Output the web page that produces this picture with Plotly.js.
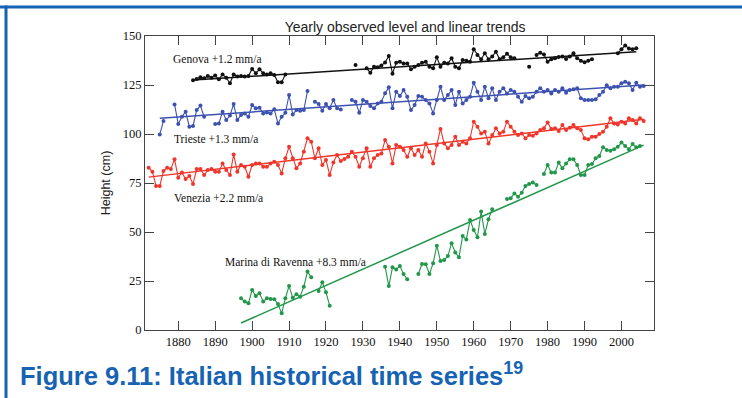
<!DOCTYPE html>
<html><head><meta charset="utf-8">
<script src="https://cdn.plot.ly/plotly-3.0.1.min.js"></script>
<style>html,body{margin:0;padding:0;background:#fff;}#chart{width:742px;height:398px;}</style>
</head><body><div id="chart"></div>
<script>
// ---- data (cm) ----
const genovaStart = 1884;
const genova = [127.4,128.0,128.9,128.4,129.6,128.7,129.8,127.9,130.4,128.7,125.9,130.4,129.3,129.6,129.3,129.6,133.2,131.0,133.0,131.0,130.4,131.0,130.1,126.4,126.4,130.4,
  null,null,null,null,null,null,null,null,null,null,null,null,null,null,null,null,null,null,
  135.2,null,null,
  133.5,131.3,134.3,134.0,135.0,136.5,139.8,130.8,136.4,136.9,
  136.0,136.0,133.0,134.3,135.2,136.4,136.9,134.3,133.5,139.1,
  134.3,136.4,136.0,138.6,134.3,133.5,137.8,137.4,136.9,143.2,
  140.3,138.1,141.2,138.1,139.5,142.0,138.1,139.1,141.0,139.1,138.6,
  null,null,null,134.3,null,
  140.3,141.5,140.5,136.9,138.1,138.6,139.3,139.6,138.3,139.5,141.2,138.6,137.4,136.6,137.4,138.1,
  null,null,null,null,null,null,
  141.2,143.2,145.2,143.6,143.2,143.8];

const triesteStart = 1875;
const trieste = [99.8,106.6,null,null,115.1,105.1,108.8,111.4,103.7,104.1,112.2,114.5,108.8,null,null,
  105.1,105.4,111.4,107.1,109.4,115.3,107.1,109.7,110.5,108.8,
  114.8,113.1,113.4,110.5,111.0,110.5,112.6,105.4,108.8,110.8,
  119.9,110.0,112.2,111.9,112.2,122.0,null,116.5,115.3,111.9,
  115.3,113.1,117.3,113.1,112.5,null,null,117.3,116.5,110.8,
  117.3,116.5,114.3,113.1,115.6,116.5,120.8,123.8,113.1,121.6,
  119.4,122.4,119.0,112.2,114.8,119.4,119.0,117.3,115.6,110.5,
  117.3,124.1,117.3,119.9,122.4,114.8,121.6,115.6,117.3,119.0,
  126.2,121.6,117.3,124.1,118.2,123.3,117.3,121.6,123.3,120.7,
  122.4,121.6,119.0,116.5,119.4,118.2,119.0,121.6,123.3,121.6,
  122.4,120.7,122.4,121.6,123.3,121.1,122.4,122.8,123.3,118.2,
  117.3,117.3,117.3,117.7,119.9,121.6,124.9,123.3,124.1,124.1,
  125.9,126.7,125.9,122.4,126.2,124.1,124.5];

const veneziaStart = 1872;
const venezia = [82.8,80.8,73.5,73.5,81.1,82.8,82.1,87.1,
  77.7,80.4,77.0,78.6,74.5,82.1,82.1,79.1,81.6,82.1,
  80.8,80.8,85.0,81.6,79.1,89.6,80.8,84.2,83.3,78.2,
  84.2,85.0,85.0,83.3,83.3,85.0,85.9,84.2,79.9,87.6,
  93.5,87.6,82.5,85.0,91.0,97.8,96.1,87.6,92.7,84.2,
  86.7,79.1,85.5,89.3,86.2,87.3,88.4,91.0,88.4,83.3,
  87.6,92.7,83.3,87.6,89.3,90.1,96.9,93.5,85.0,94.4,
  93.5,91.8,88.4,92.7,89.3,91.8,88.4,95.2,91.0,85.0,
  94.4,102.6,95.2,92.7,94.4,98.6,94.4,96.1,95.2,97.8,
  106.3,103.7,100.3,101.2,95.2,99.5,102.9,100.3,101.2,106.3,
  103.7,101.2,99.5,100.3,97.8,99.5,99.1,100.3,102.0,102.9,
  105.9,102.5,102.9,101.5,104.6,102.0,103.2,104.6,102.9,102.0,
  97.8,97.3,98.6,98.6,100.0,101.2,103.7,108.0,105.4,104.9,
  106.3,105.4,108.0,107.1,105.4,108.0,106.6];

const ravennaStart = 1897;
const ravenna = [16.2,14.5,13.6,
  20.4,17.3,18.7,14.5,16.2,15.8,15.7,13.3,8.5,16.2,
  22.4,16.5,18.2,17.0,22.1,29.8,26.9,null,19.9,24.3,
  19.2,12.4,null,null,null,null,null,null,null,null,
  null,null,null,null,null,null,32.3,22.4,32.0,
  30.9,32.6,28.6,25.9,null,null,28.6,33.7,33.5,28.6,
  34.0,43.0,35.2,35.7,37.8,44.2,39.5,37.1,47.9,46.2,
  56.1,51.0,47.3,60.4,49.0,56.5,61.6,null,null,null,
  66.8,67.2,69.7,68.0,70.0,73.5,74.5,75.2,74.0,null,
  79.6,84.2,80.3,80.3,85.4,82.5,85.0,87.1,87.1,84.2,
  79.1,79.1,84.2,84.7,87.6,88.8,93.2,91.8,91.5,92.2,
  93.5,95.6,93.9,92.2,94.9,93.2,93.9];

// linear trends: [startYear, endYear], [startValue, endValue]
const genovaTrendX = [1884, 2004], genovaTrendY = [127.5, 142.0];
const triesteTrendX = [1875, 2006], triesteTrendY = [108.0, 125.0];
const veneziaTrendX = [1872, 2006], veneziaTrendY = [78.0, 107.5];
const ravennaTrendX = [1897, 2006], ravennaTrendY = [3.6, 94.3];

const seriesNames = ["Genova +1.2 mm/a","Trieste +1.3 mm/a","Venezia +2.2 mm/a","Marina di Ravenna +8.3 mm/a"];
const xTicks = [1880,1890,1900,1910,1920,1930,1940,1950,1960,1970,1980,1990,2000];
const yTicks = [0,25,50,75,100,125,150];

function yearsFrom(start, arr){ return arr.map((_, i) => start + i); }

const colors = {gen:'#111111', tri:'#3d52b0', ven:'#f0362b', rav:'#22974a'};
function dataTrace(start, vals, c){
  return {x: yearsFrom(start, vals), y: vals, mode:'lines+markers', type:'scatter',
    line:{color:c, width:1.1}, marker:{color:c, size:4}, connectgaps:false, hoverinfo:'skip', showlegend:false};
}
function trendTrace(xs, ys, c){
  return {x: xs, y: ys, mode:'lines', type:'scatter', line:{color:c, width:1.5}, hoverinfo:'skip', showlegend:false};
}

const traces = [
  trendTrace(genovaTrendX, genovaTrendY, colors.gen),
  trendTrace(triesteTrendX, triesteTrendY, colors.tri),
  trendTrace(veneziaTrendX, veneziaTrendY, colors.ven),
  trendTrace(ravennaTrendX, ravennaTrendY, colors.rav),
  dataTrace(genovaStart, genova, colors.gen),
  dataTrace(triesteStart, trieste, colors.tri),
  dataTrace(veneziaStart, venezia, colors.ven),
  dataTrace(ravennaStart, ravenna, colors.rav)
];

const lblFont = {family:'Liberation Serif, Times New Roman, serif', size:11.5, color:'#111'};
const blue = '#1663b4';
const layout = {
  width:742, height:398,
  margin:{l:145, r:88, t:36, b:68},
  paper_bgcolor:'#fff', plot_bgcolor:'#fff',
  font:{family:'Liberation Serif, Times New Roman, serif', size:12.5, color:'#111'},
  title:{text:'Yearly observed level and linear trends', font:{family:'Liberation Sans, Arial, sans-serif', size:14, color:'#222'},
    xref:'paper', x:0.511, xanchor:'center', yref:'container', y:1-27/398, yanchor:'middle'},
  xaxis:{range:[1871, 2008.8], tickvals:xTicks, ticktext:xTicks.map(String), ticks:'inside', ticklen:9, tickcolor:'#444',
    showline:true, linecolor:'#444', linewidth:1, mirror:'ticks', showgrid:false, zeroline:false, fixedrange:true},
  yaxis:{range:[0,150], tickvals:yTicks, ticktext:yTicks.map(String), ticks:'inside', ticklen:9, tickcolor:'#444',
    showline:true, linecolor:'#444', linewidth:1, mirror:'ticks', showgrid:false, zeroline:false, fixedrange:true,
    title:{text:'Height (cm)', font:{family:'Liberation Sans, Arial, sans-serif', size:12.5, color:'#222'}, standoff:9}},
  annotations:[
    {text:seriesNames[0], x:1878.0, y:138.3, xref:'x', yref:'y', xanchor:'left', yanchor:'middle', showarrow:false, font:lblFont},
    {text:seriesNames[1], x:1878.2, y:97.3, xref:'x', yref:'y', xanchor:'left', yanchor:'middle', showarrow:false, font:lblFont},
    {text:seriesNames[2], x:1878.2, y:67.2, xref:'x', yref:'y', xanchor:'left', yanchor:'middle', showarrow:false, font:lblFont},
    {text:seriesNames[3], x:1892.0, y:34.8, xref:'x', yref:'y', xanchor:'left', yanchor:'middle', showarrow:false, font:lblFont},
    {text:'<b>Figure 9.11: Italian historical time series<sup>19</sup></b>', xref:'paper', yref:'paper',
      x:(18-145)/509, y:(330-374)/294, xanchor:'left', yanchor:'middle', showarrow:false,
      font:{family:'Liberation Sans, Arial, sans-serif', size:25.5, color:blue}}
  ],
  shapes:[
    {type:'line', xref:'paper', yref:'paper', x0:-145/509, x1:(742-145)/509, y0:(330-7)/294, y1:(330-7)/294, line:{color:blue, width:3}},
    {type:'line', xref:'paper', yref:'paper', x0:(6-145)/509, x1:(6-145)/509, y0:(330-5.5)/294, y1:(330-400)/294, line:{color:blue, width:3}}
  ]
};
Plotly.newPlot('chart', traces, layout, {displayModeBar:false, staticPlot:true});
</script></body></html>
